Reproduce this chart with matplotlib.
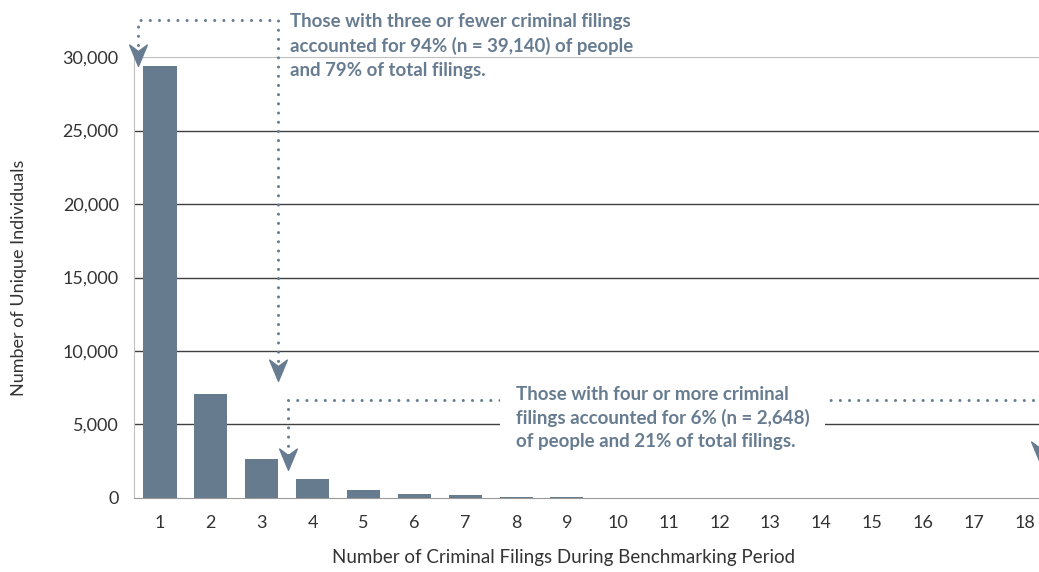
import numpy as np
import matplotlib.pyplot as plt
from matplotlib.path import Path

filings = np.arange(1, 19)                                                      #number of criminal filings
people = np.array([29400, 7100, 2640, 1290, 560, 300, 170, 100, 90,
                   20, 15, 15, 15, 15, 15, 15, 15, 13])                         #unique individuals per count
yticks = [0, 5000, 10000, 15000, 20000, 25000, 30000]

note_low = "Those with three or fewer criminal filings\naccounted for 94% (n = 39,140) of people\nand 79% of total filings."
note_high = "Those with four or more criminal\nfilings accounted for 6% (n = 2,648)\nof people and 21% of total filings."

bar_col = "#667b8e"
txt_col = "#677c90"
plt.rcParams['font.family'] = ['Lato', 'DejaVu Sans']

fig = plt.figure(figsize=(10.39, 5.72), dpi=100)
ax = fig.add_axes([0.129, 0.1294, 0.871, 0.7709])

ax.bar(filings, people, width=0.65, color=bar_col, zorder=3)
ax.set_xlim(0.49, 18.28)
ax.set_ylim(0, 30000)

for v in yticks[1:-1]:                                                          #dark gridlines
    ax.axhline(v, color="#404040", lw=1, zorder=1)

ax.set_xticks(filings)
ax.set_yticks(yticks)
ax.set_yticklabels(["{:,}".format(v) for v in yticks])
ax.tick_params(length=0, labelsize=13, colors="#333333")
ax.tick_params(axis="y", pad=11)
ax.tick_params(axis="x", pad=12)
for s in ["top", "left", "bottom"]:
    ax.spines[s].set_color("#c0c0c0")
ax.spines["bottom"].set_color("#9a9a9a")
ax.spines["right"].set_visible(False)

ax.set_ylabel("Number of Unique Individuals", fontsize=13, color="#333333", labelpad=26)
ax.set_xlabel("Number of Criminal Filings During Benchmarking Period", fontsize=13.5,
              color="#333333", labelpad=13)
ax.xaxis.label.set_x(0.475)                                                     #label sits left of centre

#chevron arrowhead marker
head = Path([(0, -1), (-0.75, 0.8), (0, 0.25), (0.75, 0.8), (0, -1)],
            [Path.MOVETO, Path.LINETO, Path.LINETO, Path.LINETO, Path.CLOSEPOLY])
dot = dict(color=txt_col, lw=2.2, linestyle=(0, (0.01, 3)), dash_capstyle="round",
           clip_on=False, zorder=4)
hd = dict(marker=head, markersize=17, color=txt_col, clip_on=False, zorder=5, linestyle="none")

#first callout
ax.plot([0.57, 0.57, 3.32, 3.32], [30800, 32500, 32500, 9300], **dot)
ax.plot([0.57], [30200], **hd)
ax.plot([3.32], [8800], **hd)
fig.text(290 / 1039, 1 - 13 / 572, note_low, fontsize=13.4, fontweight="bold",
         color=txt_col, va="top", ha="left", linespacing=1.47)

#second callout
ax.plot([3.52, 3.52], [2900, 6700], **dot)
ax.plot([3.52, 18.6], [6700, 6700], **dot)
ax.plot([3.52], [2700], **hd)
ax.plot([18.3], [3200], **hd)
ax.text(7.99, 7600, note_high, fontsize=13.5, fontweight="bold", color=txt_col,
        va="top", ha="left", linespacing=1.4, zorder=6,
        bbox=dict(boxstyle="square,pad=0.85", fc="white", ec="none"))

fig.savefig("out.png", dpi=100)
